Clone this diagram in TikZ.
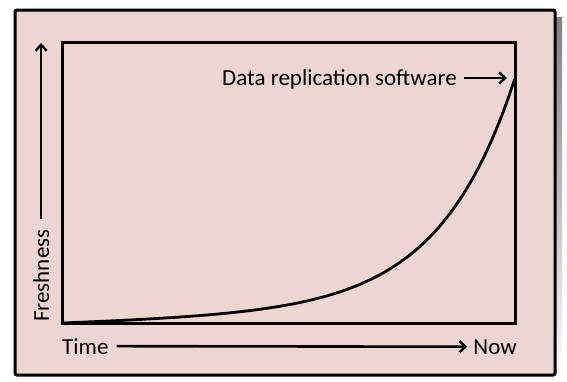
\documentclass[tikz,border=0pt]{standalone}
\usepackage{fontspec}
\setmainfont{Carlito}
\usetikzlibrary{arrows.meta,calc}
\definecolor{panel}{HTML}{EDD5D1}
\definecolor{shade}{HTML}{D4D4D4}

\begin{document}
\begin{tikzpicture}[x=1pt,y=-1pt,
  frame/.style={draw=black,line width=3pt},
  lbl/.style={inner sep=0pt,font=\fontsize{23}{27}\selectfont},
  arr/.style={line width=2.6pt,-{Straight Barb[length=6pt,width=11pt,line width=2.4pt]}},
  curve/.style={line width=2.8pt,line cap=round}]
  \useasboundingbox (0,0) rectangle (567,381);
  % drop shadow and outer panel
  \fill[shade] (22,17) rectangle (562,381);
  \draw[frame,fill=panel,rounded corners=2pt] (15,10) rectangle (555,375);
  % plot area
  \node[frame,fill=panel,minimum width=453pt,minimum height=281pt,inner sep=0pt]
    (plot) at (288.5,182.5) {};
  % labels
  \node[lbl,anchor=base west] (time) at (62,354) {Time};
  \node[lbl,anchor=base east] (now) at (517,354) {Now};
  \node[lbl,anchor=base east] (repl) at (457,85) {Data replication software};
  \node[lbl,rotate=90,anchor=base west] (fresh) at (49,322) {Freshness};
  \coordinate (top) at (515,78);
  \coordinate (ftop) at (43,43);
  % freshness curve: exponential growth with a small linear part
  \draw[curve] plot[domain=0:1,samples=120]
    ({62+453*\x},{323-245*(0.94*(exp(6*\x)-1)/(exp(6)-1)+0.06*\x)});
  % axis arrows
  \draw[arr] ($(time.east)+(8,0)$) -- ($(now.west)+(-6,0)$);
  \draw[arr] ($(fresh.east)+(0,-10)$) -- (fresh.east |- ftop);
  \draw[arr] ($(repl.east |- top)+(7,0)$) -- ($(top)+(-8,0)$);
\end{tikzpicture}
\end{document}
